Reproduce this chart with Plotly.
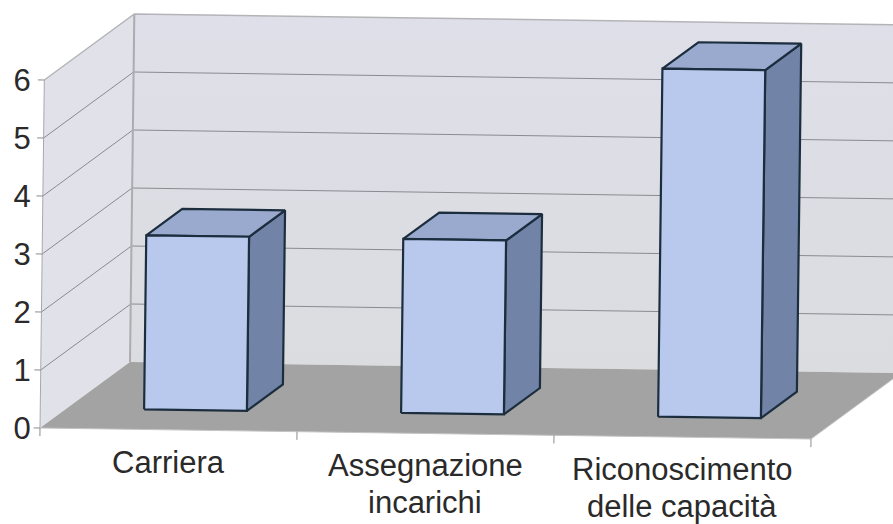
import plotly.graph_objects as go

categories = ["Carriera", "Assegnazione<br>incarichi", "Riconoscimento<br>delle capacità"]
values = [3, 3, 6]
y_ticks = [0, 1, 2, 3, 4, 5, 6]

W, H = 893, 524
PX_U, PX_V = 257.0, 58.0
ORIGIN_X, ORIGIN_Y = 40.0, 428.0
SKEW_V_X, SKEW_U_Y = 0.72, 3.67
DEPTH_X, DEPTH_Y = 90.0, 66.0
BAR_GAP, BAR_W = 0.3, 0.4
LABEL_FIRST_LINE, LABEL_LINE_STEP = -0.24, -0.63


def proj(u, v, d):
    return (u + (SKEW_V_X * v + DEPTH_X * d) / PX_U,
            v + (DEPTH_Y * d - SKEW_U_Y * u) / PX_V)


fig = go.Figure()


def poly(points, fill=None, line=None, width=1, gradient=None):
    xy = [proj(*p) for p in points]
    kw = dict(x=[p[0] for p in xy], y=[p[1] for p in xy], mode="lines",
              hoverinfo="skip", showlegend=False)
    if line:
        kw["line"] = dict(color=line, width=width)
    else:
        kw["line"] = dict(width=0)
    if fill or gradient:
        kw["fill"] = "toself"
        if fill:
            kw["fillcolor"] = fill
        if gradient:
            kw["fillgradient"] = gradient
    fig.add_trace(go.Scatter(**kw))


top = max(y_ticks)
n = len(categories)

# walls
poly([(0, 0, 1), (0, top, 1), (n, top, 1), (n, 0, 1), (0, 0, 1)],
     gradient=dict(type="vertical", colorscale=[[0, "#DADCDF"], [1, "#DFDFE9"]]))
poly([(0, 0, 0), (0, top, 0), (0, top, 1), (0, 0, 1), (0, 0, 0)], fill="#E1E1EA")
# floor
poly([(0, 0, 0), (n, 0, 0), (n, 0, 1), (0, 0, 1), (0, 0, 0)], fill="#A3A3A3")

# gridlines
for t in y_ticks[1:-1]:
    poly([(0, t, 0), (0, t, 1), (n, t, 1)], line="#8A8A90", width=1)
# wall frame
poly([(0, 0, 1), (0, top, 1)], line="#ABABB0", width=2)
poly([(0, top, 0), (0, top, 1), (n, top, 1)], line="#B4B4B8", width=1.5)
poly([(0, 0, 0), (0, top, 0)], line="#A8A8AC", width=1)
poly([(n, 0, 1), (n, 0, 0), (0, 0, 0)], line="#C4C4C4", width=1)

# axis ticks, drawn along the sheared axes
for t in y_ticks:
    poly([(-0.025, t, 0), (0, t, 0)], line="#8C8C8C", width=1)
for k in range(n + 1):
    poly([(k, 0, 0), (k, -0.14, 0)], line="#8C8C8C", width=1)

# bars
OUTLINE = "#1C2E3E"
for k, val in enumerate(values):
    a, b = k + BAR_GAP, k + BAR_GAP + BAR_W
    d0, d1 = BAR_GAP, BAR_GAP + BAR_W
    poly([(b, 0, d0), (b, 0, d1), (b, val, d1), (b, val, d0), (b, 0, d0)],
         fill="#7283A8", line=OUTLINE, width=2.2)
    poly([(a, val, d0), (a, val, d1), (b, val, d1), (b, val, d0), (a, val, d0)],
         fill="#9AAACE", line=OUTLINE, width=2.2)
    poly([(a, 0, d0), (a, val, d0), (b, val, d0), (b, 0, d0), (a, 0, d0)],
         fill="#B9C9EE", line=OUTLINE, width=2.2)

# category labels follow the tilted baseline, one annotation per line for tight leading
for k, label in enumerate(categories):
    for i, part in enumerate(label.split("<br>")):
        cx, cy = proj(k + 0.5, LABEL_FIRST_LINE + i * LABEL_LINE_STEP, 0)
        fig.add_annotation(x=cx, y=cy, text=part, showarrow=False, yanchor="top",
                           xanchor="center", align="center", borderpad=0,
                           font=dict(family="Liberation Sans", size=31, color="#2A2A2A"))

fig.update_layout(
    width=W, height=H, autosize=False,
    margin=dict(l=0, r=0, t=0, b=0),
    paper_bgcolor="white", plot_bgcolor="white",
    showlegend=False,
    xaxis=dict(range=[-ORIGIN_X / PX_U, (W - ORIGIN_X) / PX_U], domain=[0, 1],
               visible=False, fixedrange=True),
    yaxis=dict(range=[(ORIGIN_Y - H) / PX_V, ORIGIN_Y / PX_V], domain=[0, 1],
               anchor="free", position=ORIGIN_X / W,
               tickmode="array", tickvals=y_ticks, ticktext=[str(t) for t in y_ticks],
               ticks="outside", ticklen=3, tickcolor="rgba(0,0,0,0)",
               showgrid=False, zeroline=False, showline=False, fixedrange=True,
               tickfont=dict(family="Liberation Sans", size=31, color="#2A2A2A")),
)

fig.write_html("out.html", config={"displayModeBar": False},
               post_script="document.body.style.margin='0';document.body.style.overflow='hidden';")
